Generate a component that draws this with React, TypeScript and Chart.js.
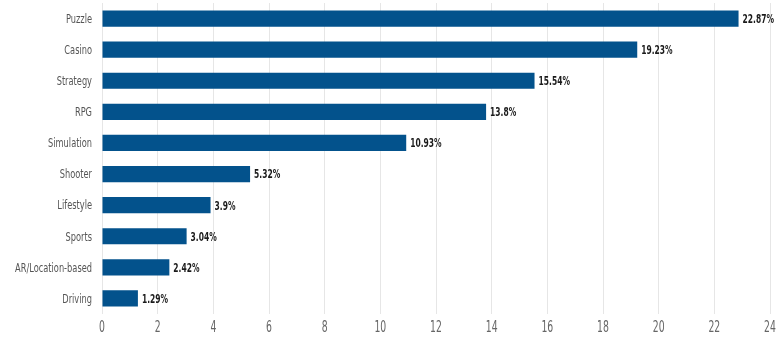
import React, { useEffect, useRef } from "react";
import { Chart, registerables } from "chart.js";

Chart.register(...registerables);

const categories = [
  "Puzzle",
  "Casino",
  "Strategy",
  "RPG",
  "Simulation",
  "Shooter",
  "Lifestyle",
  "Sports",
  "AR/Location-based",
  "Driving",
];
const shares = [22.87, 19.23, 15.54, 13.8, 10.93, 5.32, 3.9, 3.04, 2.42, 1.29];
const shareLabels = ["22.87%", "19.23%", "15.54%", "13.8%", "10.93%", "5.32%", "3.9%", "3.04%", "2.42%", "1.29%"];
const xTicks = [0, 2, 4, 6, 8, 10, 12, 14, 16, 18, 20, 22, 24];

const FONT = "'DejaVu Sans', sans-serif";

function drawCondensed(ctx: CanvasRenderingContext2D, text: string, x: number, y: number, sx: number) {
  ctx.save();
  ctx.translate(x, y);
  ctx.scale(sx, 1);
  ctx.fillText(text, 0, 0);
  ctx.restore();
}

const textPlugin = {
  id: "condensedText",
  afterDraw(chart: any) {
    const ctx: CanvasRenderingContext2D = chart.ctx;
    const meta = chart.getDatasetMeta(0);
    const xs = chart.scales.x;
    const ys = chart.scales.y;
    ctx.save();
    ctx.textBaseline = "middle";

    // value labels
    ctx.font = `bold 13px ${FONT}`;
    ctx.fillStyle = "#1a1a1a";
    ctx.textAlign = "left";
    meta.data.forEach((bar: any, i: number) => {
      drawCondensed(ctx, shareLabels[i], bar.x + 4, bar.y + 1, 0.58);
    });

    // category labels
    ctx.font = `12.5px ${FONT}`;
    ctx.fillStyle = "#555555";
    ctx.textAlign = "right";
    categories.forEach((c, i) => {
      drawCondensed(ctx, c, ys.left + ys.width - 10, ys.getPixelForValue(i) + 1, 0.66);
    });

    // x tick labels
    ctx.font = `16px ${FONT}`;
    ctx.fillStyle = "#666666";
    ctx.textAlign = "center";
    xTicks.forEach((v) => {
      drawCondensed(ctx, String(v), xs.getPixelForValue(v), chart.chartArea.bottom + 14, 0.58);
    });
    ctx.restore();
  },
};

export default function App() {
  const canvasRef = useRef<HTMLCanvasElement | null>(null);

  useEffect(() => {
    document.body.style.margin = "0";
    const canvas = canvasRef.current;
    if (!canvas) return;
    const chart = new Chart(canvas, {
      type: "bar",
      data: {
        labels: categories,
        datasets: [
          {
            data: shares,
            backgroundColor: "#03528c",
            borderWidth: 0,
            barPercentage: 0.52,
            categoryPercentage: 1,
          },
        ],
      },
      options: {
        indexAxis: "y",
        animation: false,
        responsive: false,
        maintainAspectRatio: false,
        layout: { padding: { left: 0, right: 11, top: 3, bottom: 0 } },
        plugins: {
          legend: { display: false },
          tooltip: { enabled: false },
        },
        scales: {
          x: {
            min: 0,
            max: 24,
            afterBuildTicks: (scale: any) => {
              scale.ticks = xTicks.map((v) => ({ value: v }));
            },
            grid: { color: "#e6e6e6", drawTicks: false, lineWidth: 1 },
            border: { display: false },
            ticks: { display: false },
            afterFit: (scale: any) => {
              scale.height = 36;
            },
          },
          y: {
            grid: { display: false, drawTicks: false },
            border: { display: false },
            ticks: { display: false },
            afterFit: (scale: any) => {
              scale.width = 102;
            },
          },
        },
      },
      plugins: [textPlugin],
    });
    return () => chart.destroy();
  }, []);

  return (
    <div style={{ width: 781, height: 350 }}>
      <canvas ref={canvasRef} width={781} height={350} style={{ display: "block" }} />
    </div>
  );
}
